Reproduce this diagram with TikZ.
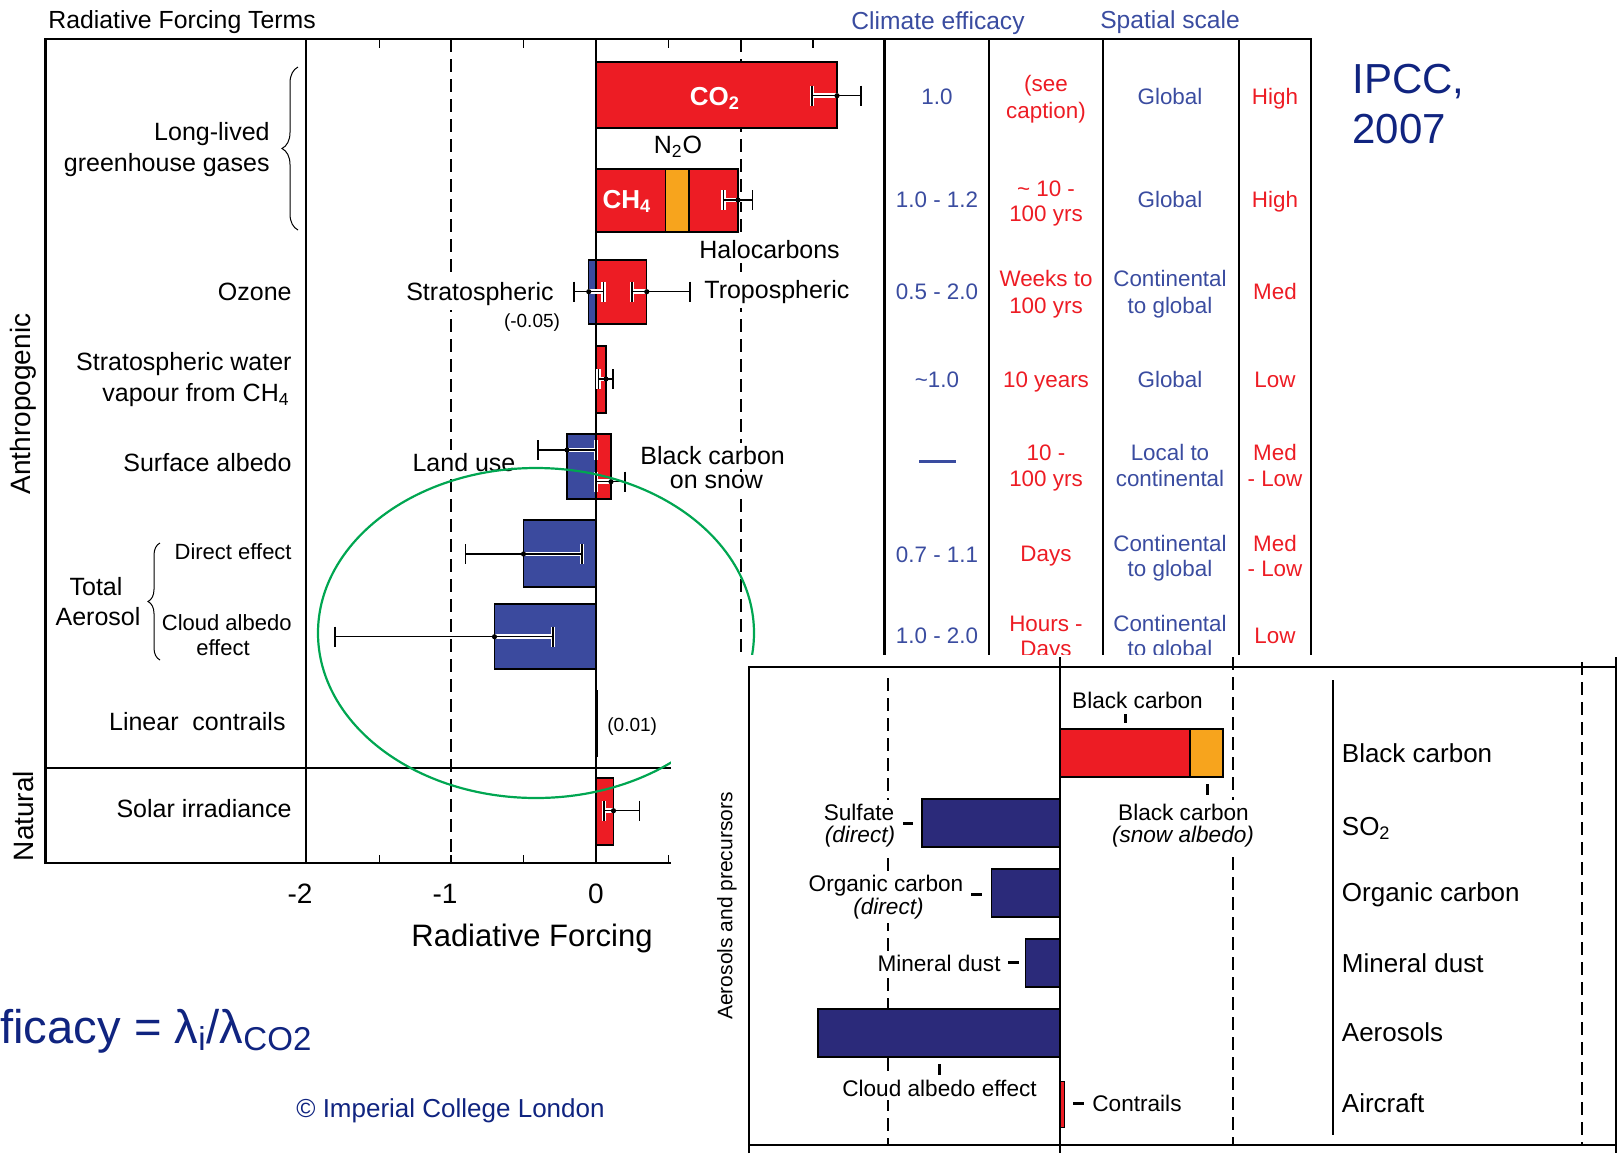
\documentclass[tikz,border=0pt]{standalone}
\usepackage{fontspec}
\setmainfont{Liberation Sans}
\usetikzlibrary{decorations.pathreplacing}
\definecolor{bred}{RGB}{237,28,36}
\definecolor{borange}{RGB}{247,164,29}
\definecolor{bblue}{RGB}{59,74,158}
\definecolor{bnavy}{RGB}{43,42,122}
\definecolor{tblue}{RGB}{58,76,160}
\definecolor{tred}{RGB}{237,28,36}
\definecolor{ipcc}{RGB}{16,36,128}
\definecolor{egreen}{RGB}{0,166,81}
\newcommand\fs[1]{\fontsize{#1}{#1}\selectfont}
\newcommand\ebar[4]{%
  \draw[white,line width=2.4pt] (#1,#4)--(#2,#4) (#1,#4-10)--(#1,#4+10) (#2,#4-10)--(#2,#4+10);
  \draw[line width=0.7pt] (#1,#4)--(#2,#4) (#1,#4-10)--(#1,#4+10) (#2,#4-10)--(#2,#4+10);
  \fill (#3,#4) circle[radius=1.3pt];}
\begin{document}
\begin{tikzpicture}[x=0.5pt,y=-0.5pt,
  tx/.style={inner sep=0pt,font=\fs{#1},yshift=-0.358*#1pt},
  bg/.style={fill=white,inner ysep=2pt},
  frameln/.style={line width=1.3pt},
  colln/.style={line width=1.2pt},
  zeroln/.style={line width=0.55pt},
  dashln/.style={line width=0.6pt,dash pattern=on 6.5pt off 3.5pt},
  bar/.style={draw=black,line width=0.7pt},
  tk/.style={line width=0.8pt},
  mk/.style={line width=1.5pt},
  blu/.style={text=tblue},
  rd/.style={text=tred}]
\useasboundingbox (0,0) rectangle (1624,1153);
% ---------------- main chart ----------------
\node[tx=12.4,anchor=base west] (title) at (48,19.3) {Radiative Forcing Terms};
\node[tx=12.3,anchor=base,blu] (hclim) at (938,21) {Climate efficacy};
\node[tx=12.3,anchor=base,blu] (hspat) at (1170,20) {Spatial scale};

\draw[dashln] (451,39) -- (451,863);
\draw[dashln] (741,39) -- (741,863);
\draw[zeroln] (596,39) -- (596,863);

% bars
\filldraw[bar,fill=bred] (596,62) rectangle (837,128);
\fill[bred] (596,169) rectangle (665.6,232);
\fill[borange] (665.6,169) rectangle (688.8,232);
\fill[bred] (688.8,169) rectangle (738,232);
\draw[bar] (596,169) rectangle (738,232) (665.6,169)--(665.6,232) (688.8,169)--(688.8,232);
\filldraw[bar,fill=bblue] (588.75,260) rectangle (596,324);
\filldraw[bar,fill=bred] (596,260) rectangle (646.75,324);
\filldraw[bar,fill=bred] (596,346) rectangle (606,413);
\filldraw[bar,fill=bblue] (567,434) rectangle (596,499);
\filldraw[bar,fill=bred] (596,434) rectangle (611,499);
\filldraw[bar,fill=bblue] (523.5,520) rectangle (596,587);
\filldraw[bar,fill=bblue] (494.5,604) rectangle (596,669);
\draw[line width=1pt] (597,690) -- (597,757);
\filldraw[bar,fill=bred] (596,778) rectangle (613.5,845);

% error bars
\ebar{812}{861}{837}{95.7}
\ebar{723.6}{752.6}{738}{200}
\ebar{574}{603.5}{588.75}{291.7}
\ebar{632}{690}{646.75}{291.7}
\ebar{598.5}{613}{606}{379}
\ebar{538}{596}{567}{450}
\ebar{596}{625}{611}{481.7}
\ebar{465.5}{582}{523.5}{554}
\ebar{335}{553}{494.5}{636.7}
\ebar{604}{639.5}{613.5}{810.7}

% frame
\draw[frameln] (671,863) -- (45.5,863) -- (45.5,39) -- (1311,39) -- (1311,700);
\draw[frameln] (45.5,768) -- (671,768);
\draw[frameln] (306,39) -- (306,863);
\foreach \x in {884.5,989,1103,1239} \draw[colln] (\x,39) -- (\x,700);
\foreach \x in {379.5,523.6,668.5,813} \draw[tk] (\x,39) -- (\x,48);
\foreach \x in {379.5,451,523.6,596,668.5} \draw[tk] (\x,863) -- (\x,855);

% bar labels
\node[tx=13,font=\fs{13}\bfseries,text=white,anchor=base] (co2) at (715,96) {CO\textsubscript{2}};
\node[tx=12.5,anchor=base] (n2o) at (678,145) {N\textsubscript{2}O};
\node[tx=13,font=\fs{13}\bfseries,text=white,anchor=base] (ch4) at (627,199) {CH\textsubscript{4}};
\node[tx=12.5,bg,anchor=base west] (halo) at (699,250) {Halocarbons};
\node[tx=12.5,bg,anchor=base east] (strat) at (554,292) {Stratospheric};
\node[tx=9.5,anchor=base] (m005) at (532,321) {(-0.05)};
\node[tx=12.5,bg,anchor=base west] (trop) at (704,290) {Tropospheric};
\node[tx=12.5,bg,anchor=base] (landuse) at (464,463) {Land use};
\node[tx=12.5,bg,anchor=base west] (bcs1) at (640,456) {Black carbon};
\node[tx=12.5,bg,anchor=base] (bcs2) at (716.5,480) {on snow};
\node[tx=9.5,anchor=base west] (p001) at (607,725) {(0.01)};

% row labels
\node[tx=12.5,anchor=base east] (ll1) at (270,131.7) {Long-lived};
\node[tx=12.5,anchor=base east] (ll2) at (270,163) {greenhouse gases};
\draw[line width=0.5pt,decorate,decoration={brace,amplitude=8pt}] (298,230) -- (298,67);
\node[tx=12.5,anchor=base east] (ozone) at (292,292) {Ozone};
\node[tx=12.5,anchor=base east] (swv1) at (292,362) {Stratospheric water};
\node[tx=12.5,anchor=base east] (swv2) at (290,393) {vapour from CH\textsubscript{4}};
\node[tx=12.5,anchor=base east] (salb) at (292,463) {Surface albedo};
\node[tx=11,anchor=base east] (direct) at (292,552) {Direct effect};
\node[tx=11,anchor=base east] (cloud1) at (292,622.7) {Cloud albedo};
\node[tx=11,anchor=base] (cloud2) at (223,648) {effect};
\node[tx=12.5,anchor=base] (total) at (96,587) {Total};
\node[tx=12.5,anchor=base] (aer) at (98,617) {Aerosol};
\draw[line width=0.5pt,decorate,decoration={brace,amplitude=6pt}] (160,660) -- (160,543);
\node[tx=12.5,anchor=base east] (contr) at (286,722) {Linear~~contrails};
\node[tx=12.5,anchor=base east] (solar) at (292,809) {Solar irradiance};
\node[inner sep=0pt,font=\fs{14},rotate=90] (anthro) at (23,404) {Anthropogenic};
\node[inner sep=0pt,font=\fs{14},rotate=90] (natural) at (23,816) {Natural};

% axis
\node[tx=14,anchor=base] (am2) at (300,893) {-2};
\node[tx=14,anchor=base] (am1) at (445,893) {-1};
\node[tx=14,anchor=base] (a0) at (596,893) {0};
\node[tx=15.5,anchor=base] (axlab) at (532,935) {Radiative Forcing};

% table
\node[tx=11.2,anchor=base,blu] (e1) at (937,96) {1.0};
\node[tx=11.2,anchor=base,blu] (e2) at (937,199) {1.0 - 1.2};
\node[tx=11.2,anchor=base,blu] (e3) at (937,291.7) {0.5 - 2.0};
\node[tx=11.2,anchor=base,blu] (e4) at (937,379) {\textasciitilde1.0};
\draw[tblue,line width=1.5pt] (919,461) -- (956,461);
\node[tx=11.2,anchor=base,blu] (e6) at (937,554) {0.7 - 1.1};
\node[tx=11.2,anchor=base,blu] (e7) at (937,635) {1.0 - 2.0};

\node[tx=11.2,anchor=base,rd] (l1a) at (1046,83) {(see};
\node[tx=11.2,anchor=base,rd] (l1b) at (1046,110) {caption)};
\node[tx=11.2,anchor=base,rd] (l2a) at (1046,188) {\textasciitilde{} 10 -};
\node[tx=11.2,anchor=base,rd] (l2b) at (1046,213) {100 yrs};
\node[tx=11.2,anchor=base,rd] (l3a) at (1046,278) {Weeks to};
\node[tx=11.2,anchor=base,rd] (l3b) at (1046,305) {100 yrs};
\node[tx=11.2,anchor=base,rd] (l4) at (1046,379) {10 years};
\node[tx=11.2,anchor=base,rd] (l5a) at (1046,452) {10 -};
\node[tx=11.2,anchor=base,rd] (l5b) at (1046,478) {100 yrs};
\node[tx=11.2,anchor=base,rd] (l6) at (1046,553) {Days};
\node[tx=11.2,anchor=base,rd] (l7a) at (1046,623) {Hours -};
\node[tx=11.2,anchor=base,rd] (l7b) at (1046,648) {Days};

\node[tx=11.2,anchor=base,blu] (s1) at (1170,96) {Global};
\node[tx=11.2,anchor=base,blu] (s2) at (1170,199) {Global};
\node[tx=11.2,anchor=base,blu] (s3a) at (1170,278) {Continental};
\node[tx=11.2,anchor=base,blu] (s3b) at (1170,305) {to global};
\node[tx=11.2,anchor=base,blu] (s4) at (1170,379) {Global};
\node[tx=11.2,anchor=base,blu] (s5a) at (1170,452) {Local to};
\node[tx=11.2,anchor=base,blu] (s5b) at (1170,478) {continental};
\node[tx=11.2,anchor=base,blu] (s6a) at (1170,543) {Continental};
\node[tx=11.2,anchor=base,blu] (s6b) at (1170,568) {to global};
\node[tx=11.2,anchor=base,blu] (s7a) at (1170,623) {Continental};
\node[tx=11.2,anchor=base,blu] (s7b) at (1170,648) {to global};

\node[tx=11.2,anchor=base,rd] (v1) at (1275,96) {High};
\node[tx=11.2,anchor=base,rd] (v2) at (1275,199) {High};
\node[tx=11.2,anchor=base,rd] (v3) at (1275,291) {Med};
\node[tx=11.2,anchor=base,rd] (v4) at (1275,379) {Low};
\node[tx=11.2,anchor=base,rd] (v5a) at (1275,452) {Med};
\node[tx=11.2,anchor=base,rd] (v5b) at (1275,478) {- Low};
\node[tx=11.2,anchor=base,rd] (v6a) at (1275,543) {Med};
\node[tx=11.2,anchor=base,rd] (v6b) at (1275,568) {- Low};
\node[tx=11.2,anchor=base,rd] (v7) at (1275,635) {Low};

% green ellipse
\draw[egreen,line width=1.1pt] (536,633) ellipse [x radius=109pt, y radius=82.5pt];

% ---------------- inset ----------------
\fill[white] (671,655) rectangle (1624,1153);
\draw[dashln] (888,678) -- (888,1145);
\draw[dashln] (1233,657) -- (1233,1145);
\draw[dashln] (1582,662) -- (1582,1145);
\draw[zeroln] (1060,657) -- (1060,1153);
\draw[line width=1pt] (749,1153) -- (749,667) -- (1616,667);
\draw[line width=1pt] (1616,657) -- (1616,1153);
\draw[line width=1pt] (749,1145) -- (1616,1145);
\draw[line width=0.8pt] (1333,680) -- (1333,1135);

\fill[bred] (1060,729) rectangle (1190,777);
\fill[borange] (1190,729) rectangle (1223,777);
\draw[bar] (1060,729) rectangle (1223,777) (1190,729) -- (1190,777);
\filldraw[bar,fill=bnavy] (922,799) rectangle (1060,847);
\filldraw[bar,fill=bnavy] (991.5,869) rectangle (1060,917);
\filldraw[bar,fill=bnavy] (1025.5,939) rectangle (1060,987);
\filldraw[bar,fill=bnavy] (818,1009) rectangle (1060,1057);
\filldraw[draw=black,line width=0.4pt,fill=bred] (1060,1081) rectangle (1064,1127);

\draw[mk] (1125,714) -- (1125,723);
\draw[mk] (1207,784) -- (1207,795);
\draw[mk] (903,823) -- (913,823);
\draw[mk] (971,894) -- (982,894);
\draw[mk] (1008,962) -- (1019,962);
\draw[mk] (939,1064) -- (939,1075);
\draw[mk] (1073,1103) -- (1084,1103);

\node[tx=11.3,anchor=base] (ibc) at (1137.5,700) {Black carbon};
\node[tx=11.3,bg,anchor=base] (ibs1) at (1183.5,812) {Black carbon};
\node[tx=11.3,bg,font=\fs{11.3}\itshape,anchor=base] (ibs2) at (1183,834) {(snow albedo)};
\node[tx=11.3,bg,anchor=base] (isul1) at (859,812) {Sulfate};
\node[tx=11.3,bg,font=\fs{11.3}\itshape,anchor=base] (isul2) at (860,834) {(direct)};
\node[tx=11.3,bg,anchor=base] (ioc1) at (886,883) {Organic carbon};
\node[tx=11.3,bg,font=\fs{11.3}\itshape,anchor=base] (ioc2) at (888.5,906) {(direct)};
\node[tx=11.3,bg,anchor=base east] (imd) at (1001,963) {Mineral dust};
\node[tx=11.3,bg,anchor=base] (icae) at (939.5,1088) {Cloud albedo effect};
\node[tx=11.3,anchor=base west] (icon) at (1092,1103) {Contrails};

\node[tx=13,anchor=base west] (r1) at (1341.5,752.7) {Black carbon};
\node[tx=13,anchor=base west] (r2) at (1341.5,826) {SO\textsubscript{2}};
\node[tx=13,anchor=base west] (r3) at (1341.5,892) {Organic carbon};
\node[tx=13,anchor=base west] (r4) at (1341.5,963) {Mineral dust};
\node[tx=13,anchor=base west] (r5) at (1341.5,1032) {Aerosols};
\node[tx=13,anchor=base west] (r6) at (1341.5,1103) {Aircraft};
\node[inner sep=0pt,font=\fs{10.5},rotate=90] (iaer) at (727,906) {Aerosols and precursors};

% ---------------- slide texts ----------------
\node[inner sep=0pt,anchor=base west,font=\fs{21},text=ipcc] (ipcc1) at (1352,93) {IPCC,};
\node[inner sep=0pt,anchor=base west,font=\fs{21},text=ipcc] (ipcc2) at (1352,143) {2007};
\node[inner sep=0pt,anchor=base west,font=\fs{23.6},text=ipcc] (effic) at (0,1043) {ficacy = λ\textsubscript{i}/λ\textsubscript{CO2}};
\node[inner sep=0pt,anchor=base west,font=\fs{13},text=ipcc] (copy) at (296,1117) {© Imperial College London};
\end{tikzpicture}
\end{document}
